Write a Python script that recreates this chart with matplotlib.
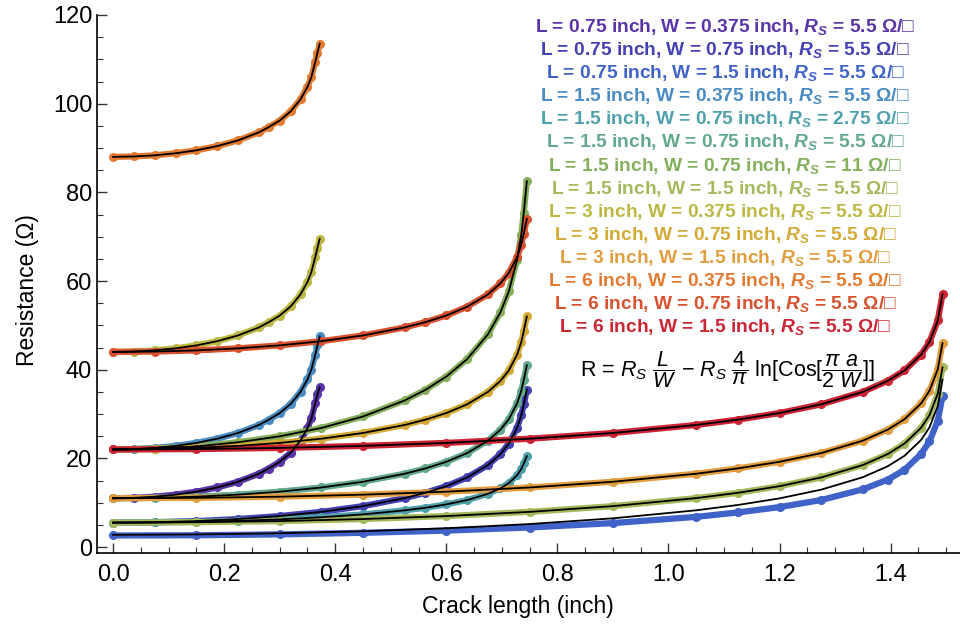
import matplotlib
matplotlib.use("Agg")
import numpy as np
from matplotlib import pyplot as plt
from matplotlib.ticker import MultipleLocator

## Figure parameters
matplotlib.rcParams.update({'font.family': ['Liberation Sans', 'DejaVu Sans'],
                            'mathtext.fontset': 'custom',
                            'mathtext.rm': 'Liberation Sans',
                            'mathtext.it': 'Liberation Sans:italic',
                            'mathtext.bf': 'Liberation Sans:bold',
                            'mathtext.bfit': 'Liberation Sans:italic:bold',
                            'axes.linewidth': 1.2})

## crack lengths (inch), shared by all strips of the same width
crack_w0375 = [0, 0.0375, 0.075, 0.1125, 0.15, 0.1875, 0.225, 0.2625, 0.28, 0.30,
               0.32, 0.3375, 0.35, 0.357, 0.364, 0.368, 0.372]
crack_w075 = [0, 0.075, 0.15, 0.225, 0.3, 0.375, 0.45, 0.525, 0.5625, 0.6, 0.6375,
              0.675, 0.6975, 0.7125, 0.7275, 0.735, 0.7395, 0.745]
crack_w15 = [0, 0.15, 0.3, 0.45, 0.6, 0.75, 0.9, 1.05, 1.125, 1.2, 1.275, 1.35,
             1.395, 1.425, 1.455, 1.47, 1.485, 1.4935]

## resistance (ohm)
r_075_0375 = [11, 11.09, 11.35, 11.81, 12.48, 13.43, 14.72, 16.53, 17.7, 19.2, 21.3,
              24.0, 26.8, 29.0, 32.4, 34.5, 36.0]
r_075_075 = [5.5, 5.59, 5.85, 6.31, 6.98, 7.93, 9.22, 11.03, 12.23, 13.72, 15.69,
             18.49, 20.98, 23.32, 26.9, 29.73, 32.2, 35.5]
r_075_15 = [2.6, 2.65, 2.85, 3.2, 3.7, 4.4, 5.4, 6.8, 7.8, 9.0, 10.6, 13.0, 15.2,
            17.4, 21.0, 23.8, 28.5, 34.0]
r_15_0375 = [22, 22.09, 22.35, 22.81, 23.48, 24.43, 25.72, 27.53, 28.7, 30.2, 32.3,
             35.0, 37.8, 40.0, 43.4, 45.5, 47.5]
r_15_075_lo = [5.5, 5.54, 5.68, 5.9, 6.24, 6.71, 7.36, 8.27, 8.86, 9.61, 10.59, 12.0,
               13.24, 14.41, 16.2, 17.62, 18.85, 20.5]
r_15_075 = [11, 11.09, 11.35, 11.81, 12.48, 13.43, 14.72, 16.53, 17.73, 19.22, 21.19,
            23.99, 26.48, 28.82, 32.4, 35.23, 37.7, 41.0]
r_15_075_hi = [22, 22.17, 22.7, 23.62, 24.97, 26.85, 29.44, 33.06, 35.45, 38.45, 42.38,
               47.98, 52.95, 57.65, 64.8, 70.47, 75.4, 82.5]
r_15_15 = [5.5, 5.59, 5.85, 6.31, 6.98, 7.93, 9.22, 11.03, 12.23, 13.72, 15.69, 18.49,
           20.98, 23.32, 26.9, 29.73, 34.6, 40.5]
r_3_0375 = [44, 44.09, 44.35, 44.81, 45.48, 46.43, 47.72, 49.53, 50.7, 52.2, 54.3,
            57.0, 59.8, 62.0, 65.4, 67.5, 69.5]
r_3_075 = [22, 22.09, 22.35, 22.81, 23.48, 24.43, 25.72, 27.53, 28.73, 30.22, 32.19,
           34.99, 37.48, 39.82, 43.4, 46.23, 48.7, 52.0]
r_3_15 = [11, 11.09, 11.35, 11.81, 12.48, 13.43, 14.72, 16.53, 17.73, 19.22, 21.19,
          23.99, 26.48, 28.82, 32.4, 35.23, 40.1, 46.0]
r_6_0375 = [88, 88.09, 88.35, 88.81, 89.48, 90.43, 91.72, 93.53, 94.7, 96.2, 98.3,
            101.0, 103.8, 106.0, 109.4, 111.5, 113.5]
r_6_075 = [44, 44.09, 44.35, 44.81, 45.48, 46.43, 47.72, 49.53, 50.73, 52.22, 54.19,
           56.99, 59.48, 61.82, 65.4, 68.23, 70.7, 74.0]
r_6_15 = [22, 22.09, 22.35, 22.81, 23.48, 24.43, 25.72, 27.53, 28.73, 30.22, 32.19,
          34.99, 37.48, 39.82, 43.4, 46.23, 51.1, 57.0]

## model curve where it departs from the points (L = 0.75, W = 1.5)
model_075_15 = [2.75, 2.84, 3.1, 3.56, 4.23, 5.18, 6.47, 8.28, 9.48, 10.97, 12.94,
                15.74, 18.23, 20.57, 24.15, 26.98, 31.84, 37.75]

labels = ["L = 0.75 inch, W = 0.375 inch, $\\mathbfit{R_S}$ = 5.5 \u03a9/\u25a1",
          "L = 0.75 inch, W = 0.75 inch, $\\mathbfit{R_S}$ = 5.5 \u03a9/\u25a1",
          "L = 0.75 inch, W = 1.5 inch, $\\mathbfit{R_S}$ = 5.5 \u03a9/\u25a1",
          "L = 1.5 inch, W = 0.375 inch, $\\mathbfit{R_S}$ = 5.5 \u03a9/\u25a1",
          "L = 1.5 inch, W = 0.75 inch, $\\mathbfit{R_S}$ = 2.75 \u03a9/\u25a1",
          "L = 1.5 inch, W = 0.75 inch, $\\mathbfit{R_S}$ = 5.5 \u03a9/\u25a1",
          "L = 1.5 inch, W = 0.75 inch, $\\mathbfit{R_S}$ = 11 \u03a9/\u25a1",
          "L = 1.5 inch, W = 1.5 inch, $\\mathbfit{R_S}$ = 5.5 \u03a9/\u25a1",
          "L = 3 inch, W = 0.375 inch, $\\mathbfit{R_S}$ = 5.5 \u03a9/\u25a1",
          "L = 3 inch, W = 0.75 inch, $\\mathbfit{R_S}$ = 5.5 \u03a9/\u25a1",
          "L = 3 inch, W = 1.5 inch, $\\mathbfit{R_S}$ = 5.5 \u03a9/\u25a1",
          "L = 6 inch, W = 0.375 inch, $\\mathbfit{R_S}$ = 5.5 \u03a9/\u25a1",
          "L = 6 inch, W = 0.75 inch, $\\mathbfit{R_S}$ = 5.5 \u03a9/\u25a1",
          "L = 6 inch, W = 1.5 inch, $\\mathbfit{R_S}$ = 5.5 \u03a9/\u25a1"]

cracks = [crack_w0375, crack_w075, crack_w15, crack_w0375, crack_w075, crack_w075,
          crack_w075, crack_w15, crack_w0375, crack_w075, crack_w15, crack_w0375,
          crack_w075, crack_w15]
resist = [r_075_0375, r_075_075, r_075_15, r_15_0375, r_15_075_lo, r_15_075,
          r_15_075_hi, r_15_15, r_3_0375, r_3_075, r_3_15, r_6_0375, r_6_075, r_6_15]
models = [None, None, model_075_15] + [None] * 11

colors = ['#5a33a6', '#4340b2', '#3f63c9', '#4a8cc2', '#4fa1ab', '#62a98c',
          '#84b05c', '#a3b95c', '#bdb744', '#d3aa36', '#e19d3e', '#e27b31',
          '#d9522f', '#cc2433']

fig = plt.figure(figsize=(9.6, 6.31), dpi=100)
ax = fig.add_axes([97 / 960, 1 - 553 / 631, 863 / 960, 538 / 631])

for x, y, m, c in zip(cracks, resist, models, colors):
    ax.plot(x, y, color=c, lw=4.5, solid_capstyle='round', zorder=2)
    ax.plot(x, y, 'o', color=c, ms=5.5, mec=c, zorder=2)
    ax.plot(x, y if m is None else m, color='black', lw=1.3, zorder=3)

ax.set(xlim=(-0.029, 1.525), ylim=(-1.35, 120))
ax.xaxis.set_major_locator(MultipleLocator(0.2))
ax.xaxis.set_minor_locator(MultipleLocator(0.05))
ax.yaxis.set_major_locator(MultipleLocator(20))
ax.yaxis.set_minor_locator(MultipleLocator(5))
ax.xaxis.set_major_formatter(matplotlib.ticker.FormatStrFormatter('%.1f'))
ax.tick_params(which='both', direction='in', labelsize=17, color='#333333')
ax.tick_params(which='major', length=7, width=1.0)
ax.tick_params(which='minor', length=4, width=0.8)
ax.tick_params(axis='x', pad=8)
for s in ['top', 'right']:
    ax.spines[s].set_visible(False)

fig.text(28 / 960, 1 - 290 / 631, "Resistance (\u03a9)", rotation=90, ha='center',
         va='center', fontsize=16.5)
fig.text(518 / 960, 1 - 607 / 631, "Crack length (inch)", ha='center', va='center',
         fontsize=16.5)

for i, (lab, c) in enumerate(zip(labels, colors)):
    fig.text(725 / 960, 1 - (27 + 23.1 * i) / 631, lab, color=c, ha='center',
             va='center', fontsize=13.8, fontweight='bold')

fig.text(728 / 960, 1 - 370 / 631,
         r"R = $R_S\ \dfrac{L}{W}$ $-$ $R_S\ \dfrac{4}{\pi}$ ln[Cos[$\dfrac{\pi\ a}{2\ W}$]]",
         ha='center', va='center', fontsize=15.5)

fig.savefig("out.png", dpi=100)
